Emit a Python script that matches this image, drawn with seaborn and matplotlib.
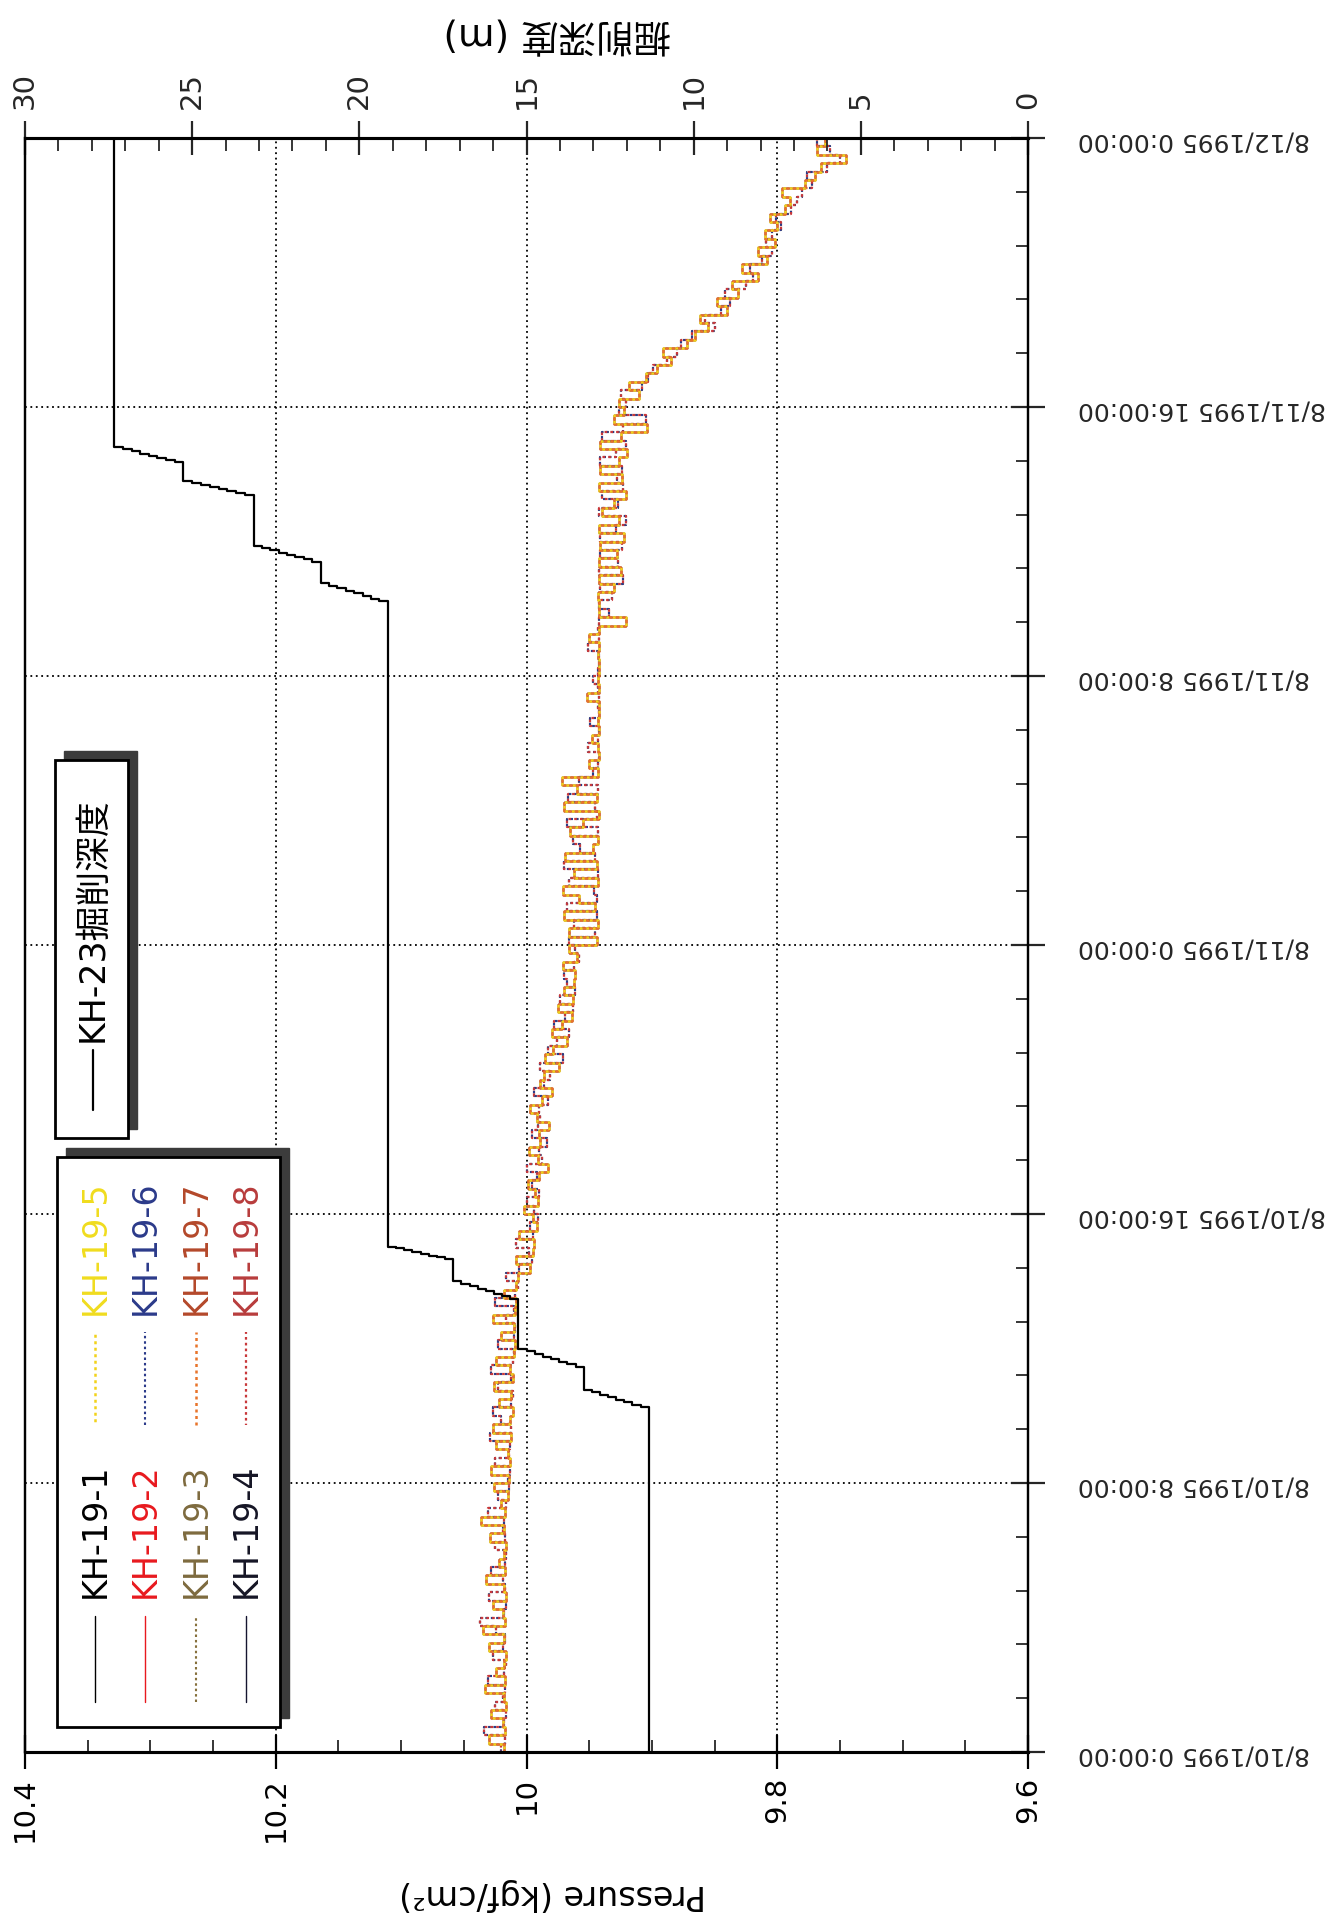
import numpy as np
import pandas as pd
import matplotlib
matplotlib.use("Agg")
import matplotlib.pyplot as plt
import seaborn as sns
from matplotlib.ticker import FixedLocator, MultipleLocator
from matplotlib.patches import Rectangle
from matplotlib.lines import Line2D

# ---------------------------------------------------------------- data
# Pore-pressure records (kgf/cm2), one sample every 15 min from 8/10/1995 0:00 to 8/12/1995 0:00
pressure_a = [
    10.018, 10.030, 10.017, 10.019, 10.028, 10.016, 10.018, 10.033,
    10.017, 10.024, 10.018, 10.016, 10.030, 10.018, 10.035, 10.017,
    10.019, 10.027, 10.016, 10.018, 10.032, 10.017, 10.022, 10.018,
    10.016, 10.029, 10.018, 10.036, 10.017, 10.020, 10.015, 10.026,
    10.014, 10.028, 10.013, 10.015, 10.024, 10.012, 10.027, 10.013,
    10.011, 10.022, 10.012, 10.026, 10.011, 10.013, 10.024, 10.010,
    10.009, 10.020, 10.010, 10.027, 10.009, 10.008, 10.018, 10.008,
    10.007, 9.997, 10.008, 9.995, 9.994, 10.006, 9.992, 9.995,
    10.002, 9.991, 9.993, 9.999, 9.990, 9.983, 9.991, 9.998,
    9.989, 9.990, 9.982, 9.992, 9.997, 9.988, 9.980, 9.989,
    9.986, 9.974, 9.985, 9.979, 9.968, 9.980, 9.972, 9.964,
    9.975, 9.963, 9.970, 9.962, 9.961, 9.971, 9.960, 9.966,
    9.944, 9.966, 9.943, 9.970, 9.945, 9.958, 9.971, 9.943,
    9.962, 9.944, 9.969, 9.947, 9.943, 9.965, 9.955, 9.942,
    9.970, 9.944, 9.960, 9.972, 9.943, 9.950, 9.942, 9.943,
    9.948, 9.942, 9.943, 9.942, 9.942, 9.952, 9.942, 9.943,
    9.942, 9.942, 9.943, 9.942, 9.950, 9.942, 9.921, 9.942,
    9.942, 9.943, 9.930, 9.942, 9.925, 9.942, 9.928, 9.941,
    9.922, 9.942, 9.926, 9.940, 9.930, 9.921, 9.942, 9.924,
    9.941, 9.926, 9.920, 9.941, 9.925, 9.904, 9.930, 9.922,
    9.926, 9.910, 9.918, 9.905, 9.896, 9.885, 9.891, 9.872,
    9.866, 9.855, 9.862, 9.840, 9.848, 9.831, 9.836, 9.815,
    9.828, 9.808, 9.815, 9.802, 9.810, 9.800, 9.806, 9.794,
    9.790, 9.796, 9.778, 9.770, 9.765, 9.745, 9.768, 9.762,
    9.770,
]
pressure_b = [
    10.020, 10.017, 10.034, 10.018, 10.016, 10.025, 10.019, 10.017,
    10.031, 10.018, 10.016, 10.027, 10.019, 10.017, 10.024, 10.037,
    10.018, 10.016, 10.030, 10.017, 10.019, 10.028, 10.017, 10.016,
    10.025, 10.017, 10.019, 10.018, 10.031, 10.016, 10.023, 10.014,
    10.015, 10.013, 10.025, 10.014, 10.013, 10.029, 10.012, 10.020,
    10.027, 10.012, 10.011, 10.023, 10.012, 10.028, 10.011, 10.010,
    10.023, 10.010, 10.009, 10.016, 10.010, 10.025, 10.009, 10.007,
    10.016, 10.006, 9.996, 9.998, 10.008, 9.995, 9.997, 9.991,
    9.994, 10.000, 9.990, 9.996, 9.992, 10.000, 9.988, 9.990,
    9.984, 9.996, 9.991, 9.989, 9.990, 9.983, 9.994, 9.986,
    9.981, 9.989, 9.971, 9.983, 9.976, 9.966, 9.978, 9.969,
    9.963, 9.973, 9.961, 9.968, 9.970, 9.962, 9.958, 9.961,
    9.966, 9.945, 9.962, 9.944, 9.968, 9.944, 9.946, 9.966,
    9.943, 9.970, 9.945, 9.957, 9.963, 9.943, 9.968, 9.944,
    9.945, 9.967, 9.943, 9.958, 9.947, 9.943, 9.942, 9.951,
    9.943, 9.942, 9.949, 9.942, 9.943, 9.942, 9.943, 9.947,
    9.943, 9.942, 9.942, 9.951, 9.942, 9.943, 9.942, 9.934,
    9.942, 9.932, 9.941, 9.923, 9.942, 9.927, 9.941, 9.924,
    9.941, 9.929, 9.921, 9.942, 9.927, 9.940, 9.923, 9.928,
    9.924, 9.941, 9.929, 9.921, 9.940, 9.923, 9.905, 9.926,
    9.921, 9.925, 9.908, 9.903, 9.899, 9.888, 9.880, 9.877,
    9.868, 9.850, 9.858, 9.845, 9.838, 9.842, 9.825, 9.819,
    9.822, 9.812, 9.804, 9.809, 9.804, 9.797, 9.801, 9.789,
    9.784, 9.780, 9.772, 9.776, 9.760, 9.750, 9.758, 9.768,
    9.766,
]
sample_hours = np.arange(len(pressure_a)) * 0.25

series_names = ["KH-19-1", "KH-19-2", "KH-19-3", "KH-19-4",
                "KH-19-5", "KH-19-6", "KH-19-7", "KH-19-8"]
series_values = {
    "KH-19-1": pressure_a, "KH-19-2": pressure_a, "KH-19-3": pressure_b, "KH-19-4": pressure_a,
    "KH-19-5": pressure_a, "KH-19-6": pressure_b, "KH-19-7": pressure_a, "KH-19-8": pressure_b,
}

# KH-23 excavation depth (m), stepwise; hours after 8/10/1995 0:00
depth_hours = [0.0,
               10.25, 10.33, 10.40, 10.48, 10.55, 10.62, 10.70, 10.77,
               11.45, 11.53, 11.61, 11.69, 11.76, 11.84, 11.92, 12.0,
               13.48, 13.55, 13.63, 13.70, 13.78, 13.85, 13.93, 14.0,
               14.65, 14.71, 14.76, 14.82, 14.87, 14.92, 14.98, 15.03,
               34.22, 34.30, 34.38, 34.46, 34.53, 34.61, 34.69, 34.77,
               35.40, 35.47, 35.53, 35.60, 35.67, 35.74, 35.80, 35.87,
               37.37, 37.44, 37.50, 37.56, 37.62, 37.69, 37.75, 37.81,
               38.36, 38.43, 38.49, 38.55, 38.61, 38.68, 38.74, 38.80,
               48.0]
depth_m = [11.35,
           11.59, 11.84, 12.08, 12.32, 12.56, 12.81, 13.05, 13.29,
           13.53, 13.78, 14.02, 14.27, 14.51, 14.75, 15.00, 15.24,
           15.48, 15.73, 15.97, 16.22, 16.46, 16.70, 16.95, 17.19,
           17.44, 17.68, 17.93, 18.17, 18.42, 18.66, 18.91, 19.15,
           19.40, 19.65, 19.90, 20.16, 20.41, 20.66, 20.91, 21.16,
           21.41, 21.66, 21.91, 22.16, 22.41, 22.66, 22.91, 23.16,
           23.42, 23.69, 23.95, 24.21, 24.47, 24.74, 25.00, 25.26,
           25.52, 25.78, 26.04, 26.29, 26.55, 26.81, 27.07, 27.33,
           27.33]

time_ticks = [0, 8, 16, 24, 32, 40, 48]
time_labels = ["8/10/1995 0:00:00", "8/10/1995 8:00:00", "8/10/1995 16:00:00",
               "8/11/1995 0:00:00", "8/11/1995 8:00:00", "8/11/1995 16:00:00",
               "8/12/1995 0:00:00"]
pressure_ticks = [10.4, 10.2, 10.0, 9.8, 9.6]
pressure_labels = ["10.4", "10.2", "10", "9.8", "9.6"]
depth_ticks = [30, 25, 20, 15, 10, 5, 0]
depth_labels = ["30", "25", "20", "15", "10", "5", "0"]

# ---------------------------------------------------------------- styles
line_color = {
    "KH-19-1": "#000000", "KH-19-2": "#e8191e", "KH-19-3": "#86703c", "KH-19-4": "#151530",
    "KH-19-5": "#f2d21b", "KH-19-6": "#2b3a8a", "KH-19-7": "#e8742a", "KH-19-8": "#c8383a",
}
text_color = {
    "KH-19-1": "#000000", "KH-19-2": "#e8191e", "KH-19-3": "#7d6a3e", "KH-19-4": "#151525",
    "KH-19-5": "#f0dc1e", "KH-19-6": "#2b3a8a", "KH-19-7": "#b4482a", "KH-19-8": "#b83c3c",
}
line_style = {
    "KH-19-1": "-", "KH-19-2": "-", "KH-19-3": (0, (1.2, 1.4)), "KH-19-4": "-",
    "KH-19-5": (1.3, (1.2, 1.4)), "KH-19-6": (0, (1.2, 1.4)), "KH-19-7": (0, (1.2, 1.4)),
    "KH-19-8": (0.6, (1.2, 1.4)),
}
line_width = {
    "KH-19-1": 1.0, "KH-19-2": 1.0, "KH-19-3": 1.5, "KH-19-4": 1.0,
    "KH-19-5": 1.8, "KH-19-6": 1.5, "KH-19-7": 1.8, "KH-19-8": 1.6,
}
draw_order = ["KH-19-1", "KH-19-4", "KH-19-2", "KH-19-3", "KH-19-6", "KH-19-8", "KH-19-7", "KH-19-5"]

sns.set_style("ticks")
plt.rcParams["font.family"] = ["DejaVu Sans", "Noto Sans CJK JP"]

W, H = 1325, 1920
fig = plt.figure(figsize=(W / 100, H / 100), dpi=100)
fig.patch.set_facecolor("white")


def fx(px):
    return px / W


def fy(py):
    return 1 - py / H


ax = fig.add_axes([fx(25), fy(1752), (1028 - 25) / W, (1752 - 138) / H])
ax2 = ax.twiny()

# pressure traces: pressure runs along x (reversed), time runs upward
for name in draw_order:
    df = pd.DataFrame({"hour": sample_hours, "pressure": series_values[name]})
    sns.lineplot(data=df, x="pressure", y="hour", ax=ax, sort=False, estimator=None,
                 color=line_color[name], linestyle=line_style[name],
                 linewidth=line_width[name], drawstyle="steps-pre", legend=False)

# excavation depth on the twin (top) axis
dfd = pd.DataFrame({"hour": depth_hours, "depth": depth_m})
sns.lineplot(data=dfd, x="depth", y="hour", ax=ax2, sort=False, estimator=None,
             color="black", linewidth=1.6, drawstyle="steps-pre", legend=False)

ax.set_xlim(10.4, 9.6)
ax2.set_xlim(30, 0)
ax.set_ylim(0, 48)
ax.set_xlabel("")
ax.set_ylabel("")
ax2.set_xlabel("")
ax2.set_ylabel("")

# pressure axis (bottom)
ax.xaxis.set_major_locator(FixedLocator(pressure_ticks))
ax.set_xticklabels(pressure_labels)
ax.xaxis.set_minor_locator(MultipleLocator(0.05))
ax.tick_params(axis="x", which="major", bottom=True, top=False, direction="inout",
               length=24, width=1.6, labelsize=21, labelrotation=90, pad=6, colors="black")
ax.tick_params(axis="x", which="minor", bottom=True, top=False, direction="in",
               length=9, width=1.3)

# time axis (right)
ax.yaxis.tick_right()
ax.yaxis.set_major_locator(FixedLocator(time_ticks))
ax.set_yticklabels(time_labels)
ax.yaxis.set_minor_locator(MultipleLocator(1.6))
ax.tick_params(axis="y", which="major", left=False, right=True, labelleft=False,
               labelright=True, direction="inout", length=24, width=1.6,
               labelsize=18, labelrotation=180, pad=24)
ax.tick_params(axis="y", which="minor", left=False, right=True, direction="in",
               length=9, width=1.3)

# depth axis (top)
ax2.xaxis.set_major_locator(FixedLocator(depth_ticks))
ax2.set_xticklabels(depth_labels)
ax2.xaxis.set_minor_locator(MultipleLocator(1))
ax2.tick_params(axis="x", which="major", top=True, bottom=False, direction="inout",
                length=24, width=1.6, labelsize=21, labelrotation=90, pad=9)
ax2.tick_params(axis="x", which="minor", top=True, bottom=False, direction="in",
                length=9, width=1.3)

ax.grid(True, which="major", axis="both", color="black", linestyle=(0, (1, 2)), linewidth=1.3)
ax2.grid(False)

for a in (ax, ax2):
    for side in ("left", "right"):
        a.spines[side].set_linewidth(1.6)
        a.spines[side].set_color("black")
    for side in ("top", "bottom"):
        a.spines[side].set_linewidth(2.2)
        a.spines[side].set_color("black")
    a.spines[:].set_visible(True)
ax2.patch.set_visible(False)

# axis titles
fig.text(fx(553), fy(1895), "Pressure (kgf/cm²)", rotation=180, ha="center", va="center",
         fontsize=24, color="black")
fig.text(fx(557), fy(33), "掘削深度 (m)", rotation=180, ha="center", va="center",
         fontsize=27, color="black")


# ---------------------------------------------------------------- legends
def legend_box(x0, y0, x1, y1):
    shadow = Rectangle((fx(x0 + 9), fy(y1 - 9)), (x1 - x0) / W, (y1 - y0) / H,
                       transform=fig.transFigure, facecolor="#3c3c3c", edgecolor="#3c3c3c",
                       linewidth=1.0, zorder=5)
    box = Rectangle((fx(x0), fy(y1)), (x1 - x0) / W, (y1 - y0) / H,
                    transform=fig.transFigure, facecolor="white", edgecolor="black",
                    linewidth=2.0, zorder=6)
    fig.add_artist(shadow)
    fig.add_artist(box)


def legend_entry(x, line_bottom, line_top, text_bottom, label, lcolor, lstyle, lwidth, tcolor,
                 size=24):
    fig.add_artist(Line2D([fx(x), fx(x)], [fy(line_bottom), fy(line_top)],
                          transform=fig.transFigure, color=lcolor, linestyle=lstyle,
                          linewidth=lwidth, zorder=7))
    fig.text(fx(x), fy(text_bottom), label, rotation=90, rotation_mode="anchor",
             ha="left", va="center", fontsize=size, color=tcolor, zorder=8)


legend_box(57, 1157, 280, 1727)
row_x = [95, 145, 196, 246]
for i, name in enumerate(series_names[:4]):
    legend_entry(row_x[i], 1702, 1616, 1598, name, line_color[name], line_style[name],
                 line_width[name], text_color[name])
for i, name in enumerate(series_names[4:]):
    legend_entry(row_x[i], 1425, 1332, 1315, name, line_color[name], line_style[name],
                 line_width[name], text_color[name])

legend_box(55, 760, 128, 1138)
legend_entry(93, 1110, 1050, 1042, "KH-23掘削深度", "black", "-", 1.6, "black", size=25)

fig.savefig("out.png", dpi=100, facecolor="white")
